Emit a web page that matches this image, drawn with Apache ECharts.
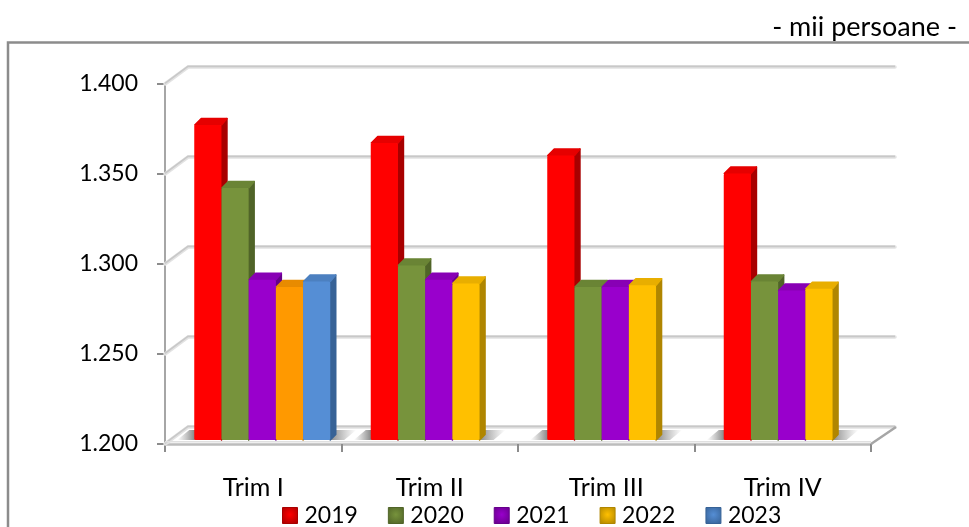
<!DOCTYPE html>
<html>
<head>
<meta charset="utf-8">
<title>mii persoane</title>
<style>
  html, body { margin: 0; padding: 0; background: #fff; }
  #chart { width: 969px; height: 527px; }
</style>
</head>
<body>
<div id="chart"></div>
<script src="https://cdn.jsdelivr.net/npm/echarts@6/dist/echarts.min.js"></script>
<script>
const categories = ['Trim I', 'Trim II', 'Trim III', 'Trim IV']
const yTicks = [1200, 1250, 1300, 1350, 1400]
const years = ['2019', '2020', '2021', '2022', '2023']
const values2019 = [1375, 1365, 1358, 1348]
const values2020 = [1340, 1297, 1285, 1288]
const values2021 = [1289, 1289, 1285, 1283]
const values2022 = [1285, 1287, 1286, 1284]
const values2023 = [1288]
const allValues = [values2019, values2020, values2021, values2022, values2023]

// front, side, top
const palette = [
  ['#ff0000', '#a80000', '#e60000'],
  ['#77933c', '#506428', '#6a8435'],
  ['#9900cc', '#66008a', '#8800b5'],
  ['#ffc000', '#b08600', '#e8ae00'],
  ['#558ed5', '#376296', '#4c80c0']
]
// first quarter 2022 bar is orange in the original
const orange2022 = ['#ff9900', '#b36b00', '#e88b00']

const font = 'Lato, sans-serif'
const depthX = 23
const depthY = 17
const barW = 27.2
const barDX = 5.5
const barDY = 6.5

function renderGridLine(params, api) {
  const p = api.coord([0, api.value(0)])
  const band = api.size([1, 0])[0]
  const x0 = p[0] - band / 2
  const y = p[1]
  const pts = [[x0, y], [x0 + depthX, y - depthY], [x0 + band * 4 + depthX + 1, y - depthY]]
  return {
    type: 'group',
    children: [
      { type: 'polyline', shape: { points: pts }, style: { fill: null, stroke: '#e2e2e2', lineWidth: 3.5, lineCap: 'round' } },
      { type: 'polyline', shape: { points: pts.map(a => [a[0], a[1] - 0.6]) }, style: { fill: null, stroke: '#c8c8c8', lineWidth: 1.6 } }
    ]
  }
}

function renderFloorEdge(params, api) {
  const p = api.coord([0, yTicks[0]])
  const band = api.size([1, 0])[0]
  const x0 = p[0] - band / 2
  const x1 = x0 + band * 4
  const y = p[1]
  return {
    type: 'group',
    children: [
      { type: 'line', shape: { x1: x1, y1: y, x2: x1 + depthX + 2, y2: y - depthY }, style: { stroke: '#a6a6a6', lineWidth: 2.5 } },
      { type: 'line', shape: { x1: x0, y1: y - 2.2, x2: x1, y2: y - 2.2 }, style: { stroke: '#e0e0e0', lineWidth: 1.5 } }
    ]
  }
}

function renderShadow(params, api) {
  const cat = api.value(0)
  const n = api.value(1)
  const c = api.coord([cat, yTicks[0]])
  const left = c[0] - barW * 2.5 + 9 - 17
  const right = c[0] - barW * 2.5 + 9 + barW * n + 26
  const yBot = c[1] - 4
  const yTop = yBot - 10
  const total = right - left
  return {
    type: 'polygon',
    shape: { points: [[left, yBot], [left + 12, yTop], [right, yTop], [right - 12, yBot]] },
    style: {
      fill: {
        type: 'linear', x: 0, y: 0, x2: 1, y2: 0,
        colorStops: [
          { offset: 0, color: 'rgba(150,150,150,0)' },
          { offset: 17 / total, color: 'rgba(125,125,125,0.9)' },
          { offset: (total - 26) / total, color: 'rgba(125,125,125,0.9)' },
          { offset: 1, color: 'rgba(150,150,150,0)' }
        ]
      }
    }
  }
}

function makeBarRender(idx) {
  return function (params, api) {
    const cat = api.value(0)
    const base = api.coord([cat, yTicks[0]])
    const top = api.coord([cat, api.value(1)])
    const x = base[0] + (idx - 2.5) * barW + 9
    const yB = base[1] - 4
    const yT = top[1] - 4
    const cols = (idx === 3 && cat === 0) ? orange2022 : palette[idx]
    return {
      type: 'group',
      children: [
        {
          type: 'polygon',
          shape: { points: [[x + barW, yB], [x + barW, yT], [x + barW + barDX, yT - barDY], [x + barW + barDX, yB - barDY + 1]] },
          style: { fill: cols[1], stroke: cols[1], lineWidth: 1.5, lineJoin: 'round' }
        },
        {
          type: 'polygon',
          shape: { points: [[x + 0.5, yT], [x + barDX + 1.5, yT - barDY], [x + barW + barDX, yT - barDY], [x + barW, yT]] },
          style: { fill: cols[2], stroke: cols[2], lineWidth: 1.5, lineJoin: 'round' }
        },
        {
          type: 'rect',
          shape: { x: x, y: yT, width: barW, height: yB - yT, r: 1.5 },
          style: { fill: cols[0] }
        }
      ]
    }
  }
}

const barSeries = years.map((name, idx) => ({
  name: name,
  type: 'custom',
  z: 5,
  clip: false,
  renderItem: makeBarRender(idx),
  itemStyle: { color: palette[idx][0] },
  encode: { x: 0, y: 1 },
  data: allValues[idx].map((v, i) => [i, v])
}))

const chart = echarts.init(document.getElementById('chart'), null, { renderer: 'canvas' })
chart.setOption({
  animation: false,
  backgroundColor: '#fff',
  title: {
    text: '- mii persoane -',
    right: 7,
    top: 9,
    textStyle: { fontFamily: font, fontSize: 27, fontWeight: 'normal', color: '#000' }
  },
  grid: { left: 165, right: 98, top: 84, bottom: 83 },
  xAxis: {
    type: 'category',
    data: categories,
    axisLine: { lineStyle: { color: '#bcbcbc', width: 2.5 } },
    axisTick: { show: true, length: 8, lineStyle: { color: '#8c8c8c', width: 2 } },
    axisLabel: { fontFamily: font, fontSize: 25, color: '#000', margin: 31 }
  },
  yAxis: {
    type: 'value',
    min: 1200,
    max: 1400,
    interval: 50,
    axisLine: { show: true, lineStyle: { color: '#a6a6a6', width: 2 } },
    axisTick: { show: true, length: 8, lineStyle: { color: '#8c8c8c', width: 2 } },
    splitLine: { show: false },
    axisLabel: {
      fontFamily: font, fontSize: 23, color: '#000', margin: 27,
      formatter: v => (v / 1000).toFixed(3)
    }
  },
  legend: {
    left: 277,
    top: 499,
    itemWidth: 15,
    itemHeight: 16,
    itemGap: 30,
    icon: 'rect',
    selectedMode: false,
    textStyle: { fontFamily: font, fontSize: 23, color: '#000', padding: [0, 0, 0, 2] },
    data: years.map((name, idx) => ({
      name: name,
      itemStyle: {
        borderColor: palette[idx][1],
        borderWidth: 1,
        color: {
          type: 'radial', x: 0.5, y: 0.45, r: 0.7,
          colorStops: [
            { offset: 0, color: palette[idx][0] },
            { offset: 1, color: palette[idx][1] }
          ]
        }
      }
    }))
  },
  graphic: [{
    type: 'polyline',
    shape: { points: [[8, 527], [8, 42.5], [969, 42.5]] },
    style: { fill: null, stroke: '#8c8c8c', lineWidth: 2.5 }
  }],
  series: [
    {
      type: 'custom', z: 1, clip: false, silent: true,
      renderItem: renderGridLine,
      encode: { y: 0 },
      data: yTicks.map(v => [v])
    },
    {
      type: 'custom', z: 2, clip: false, silent: true,
      renderItem: renderFloorEdge,
      data: [[0]]
    },
    {
      type: 'custom', z: 3, clip: false, silent: true,
      renderItem: renderShadow,
      encode: { x: 0 },
      data: categories.map((c, i) => [i, allValues.filter(a => a[i] !== undefined).length])
    }
  ].concat(barSeries)
})
</script>
</body>
</html>
